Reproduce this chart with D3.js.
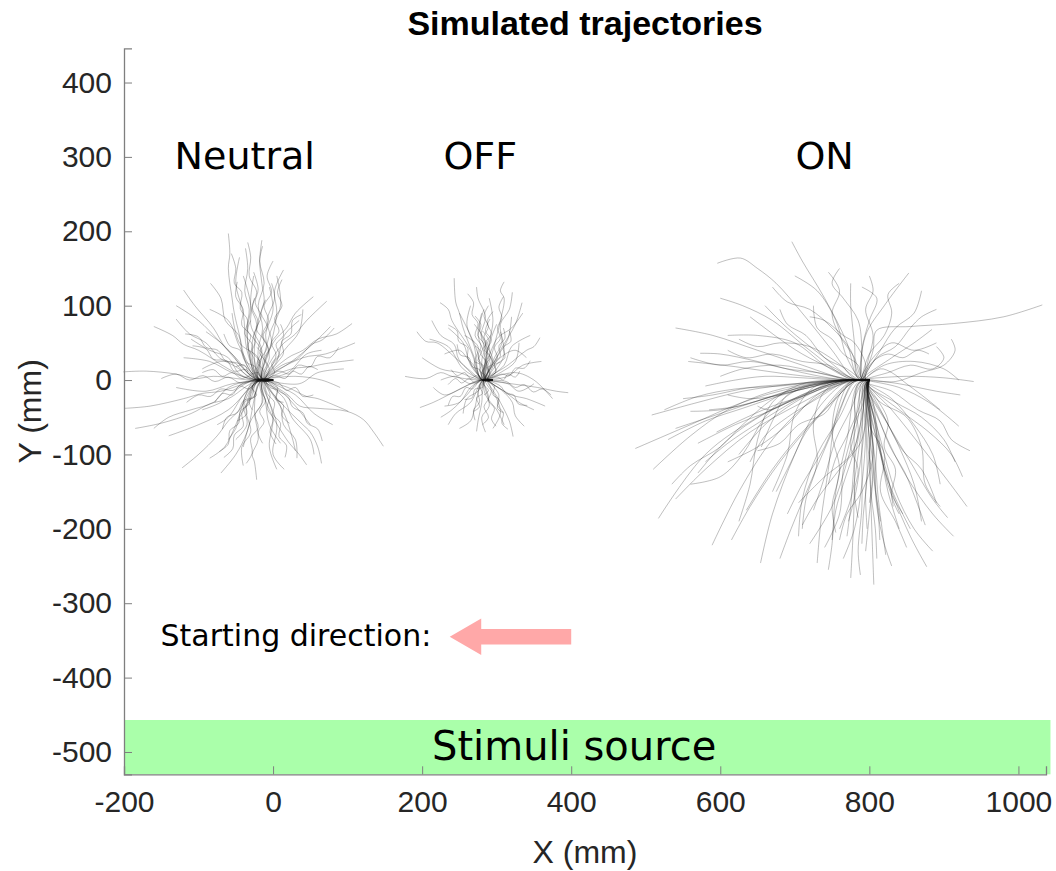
<!DOCTYPE html>
<html>
<head>
<meta charset="utf-8">
<script src="https://cdn.jsdelivr.net/npm/d3@7"></script>
<style>
  html, body { margin: 0; padding: 0; background: #fff; }
  svg { display: block; }
</style>
</head>
<body>
<svg id="chart" width="1056" height="871"></svg>
<script>
// Axis ranges and ticks (mm)
const xDomain = [-200, 1037];
const yDomain = [-530, 446];
const xTicks = [-200, 0, 200, 400, 600, 800, 1000];
const yTicks = [-500, -400, -300, -200, -100, 0, 100, 200, 300, 400];

// Start point of each group of simulated fish (mm)
const groupNames = ["Neutral", "OFF", "ON"];
const groupOrigins = [[0, 0], [295, 0], [800, 0]];
const groupLabelPos = [[-38, 284], [278, 284], [740, 284]];

// Stimulus band along the bottom (mm)
const stimulusBand = { x0: -200, x1: 1043, y0: -530, y1: -457 };
// Starting-direction arrow (mm): from tail to tip
const arrowTail = [400, -345];
const arrowTip = [237, -345];

// Trajectories, points relative to the group start (mm)
const neutralPaths = [
  [[0,0],[-20,2],[-35,20],[-45,60],[-52,90],[-55,110],[-60,150],[-58,170],[-60,197]],
  [[0,0],[-18,1],[-25,30],[-20,80],[-12,105],[-15,130],[-18,160],[-15,188]],
  [[0,0],[-22,-1],[-30,25],[-35,70],[-32,95],[-38,120],[-34,150],[-37,177]],
  [[0,0],[-15,3],[-5,40],[5,90],[2,120],[14,148]],
  [[0,0],[-25,2],[-50,30],[-65,45],[-80,70],[-105,100],[-120,121]],
  [[0,0],[-25,-1],[-60,15],[-100,40],[-120,48],[-135,60],[-160,72]],
  [[0,0],[-30,0],[-80,5],[-105,2],[-130,8],[-170,12],[-201,11]],
  [[0,0],[-28,-2],[-70,-15],[-95,-18],[-120,-25],[-165,-35],[-199,-38]],
  [[0,0],[-26,-3],[-60,-25],[-85,-32],[-110,-45],[-150,-58],[-185,-65]],
  [[0,0],[-22,-3],[-45,-40],[-60,-55],[-75,-75],[-100,-100],[-122,-118]],
  [[0,0],[-18,-2],[-25,-40],[-20,-80],[-28,-100],[-25,-110],[-22,-134]],
  [[0,0],[-15,-2],[-5,-40],[15,-75],[22,-85],[35,-100],[45,-114]],
  [[0,0],[-12,-1],[10,-30],[40,-60],[50,-70],[60,-90],[65,-112]],
  [[0,0],[-10,1],[20,-20],[36,-35],[60,-38],[99,-42],[121,-53],[135,-70],[148,-89]],
  [[0,0],[-10,0],[20,-10],[45,-22],[60,-25],[101,-42]],
  [[0,0],[-8,1],[25,15],[50,18],[70,22],[108,27]],
  [[0,0],[-10,2],[20,30],[40,40],[60,55],[85,62],[106,76]],
  [[0,0],[-12,2],[10,45],[30,62],[45,80],[72,106]],
  [[0,0],[-15,2],[0,50],[18,70],[30,90],[54,112]],
  [[0,0],[-10,1],[25,25],[55,50],[77,72]],
  [[0,0],[-20,0],[-40,15],[-55,35],[-70,50],[-90,65]],
  [[0,0],[-24,1],[-45,-10],[-70,-30],[-95,-40]],
  [[0,0],[-20,-1],[-30,-25],[-45,-50],[-50,-65],[-60,-80]],
  [[0,0],[-15,0],[-10,-30],[-5,-60],[10,-85]],
  [[0,0],[-18,1],[-35,40],[-40,90],[-50,130],[-45,165]],
  [[0,0],[-20,2],[-15,40],[-30,75],[-25,110]],
  [[0,0],[-16,1],[-5,30],[-10,60],[0,95],[-5,125]],
  [[0,0],[-22,0],[-55,10],[-85,25],[-120,30]],
  [[0,0],[-20,-1],[-55,-5],[-90,-15],[-130,-10]],
  [[0,0],[-25,0],[-50,-60],[-65,-90],[-85,-105]],
  [[0,0],[-12,-1],[0,-50],[-5,-90],[5,-120]],
  [[0,0],[-10,0],[15,-45],[25,-75],[30,-95]],
  [[0,0],[-8,0],[30,-20],[55,-45],[80,-60]],
  [[0,0],[-10,1],[30,5],[65,0],[90,-10]],
  [[0,0],[-12,2],[15,40],[35,65],[40,95]],
  [[0,0],[-14,2],[-5,60],[10,100],[5,140]],
  [[0,0],[-18,1],[-45,45],[-60,80],[-85,95]],
  [[0,0],[-22,1],[-70,50],[-100,80],[-130,100]],
  [[0,0],[-20,-2],[-60,-40],[-100,-60],[-140,-75]],
  [[0,0],[-16,-1],[-35,-70],[-50,-100],[-70,-125]],
  [[0,0],[-14,0],[5,-60],[0,-100],[15,-120]],
  [[0,0],[-12,1],[40,30],[70,35],[110,50]],
  [[0,0],[-10,0],[35,-5],[60,10],[95,15]],
  [[0,0],[-20,1],[-35,60],[-30,100],[-40,140]],
  [[0,0],[-18,0],[-40,20],[-70,25],[-95,15]],
  [[0,0],[-22,-1],[-40,-20],[-60,-50],[-75,-60]],
  [[0,0],[-15,1],[-20,30],[-45,50],[-55,90]],
  [[0,0],[-13,0],[5,25],[15,60],[35,80]],
  [[0,0],[-17,-1],[-15,-30],[-30,-55],[-40,-90]],
  [[0,0],[-14,-1],[10,-15],[30,-35],[50,-60]],
  [[0,0],[-20,1],[-28,50],[-22,75],[-30,100],[-26,140]],
  [[0,0],[-19,0],[-45,8],[-60,30],[-85,40],[-110,55]],
  [[0,0],[-21,-1],[-40,-30],[-35,-60],[-50,-80]],
  [[0,0],[-11,0],[15,-25],[25,-50],[50,-80],[55,-100]],
  [[0,0],[-9,1],[20,10],[45,35],[65,40]],
  [[0,0],[-12,1],[-22,12],[-18,25],[-28,38],[-24,52],[-34,66],[-30,80]],
  [[0,0],[-15,0],[-28,-8],[-25,-22],[-38,-30],[-35,-45],[-48,-55]],
  [[0,0],[-10,1],[-5,15],[-12,28],[-6,42],[-14,58],[-8,72],[-16,90],[-10,108]],
  [[0,0],[-18,0],[-30,6],[-42,2],[-55,10],[-68,5],[-80,14],[-95,10]],
  [[0,0],[-20,-1],[-32,-12],[-45,-8],[-55,-20],[-68,-18],[-78,-30]],
  [[0,0],[-8,0],[2,10],[-2,22],[8,34],[4,48],[14,60],[10,75]],
  [[0,0],[-6,0],[6,-10],[4,-24],[14,-34],[12,-48],[22,-58]],
  [[0,0],[-12,0],[-16,-14],[-10,-28],[-18,-42],[-12,-56],[-20,-70],[-14,-85]],
  [[0,0],[-9,1],[4,6],[16,2],[26,12],[38,8],[48,18],[60,14]],
  [[0,0],[-7,0],[8,-4],[18,-14],[30,-10],[40,-22],[54,-20]],
  [[0,0],[-14,1],[-24,18],[-36,24],[-44,40],[-58,46],[-66,62]],
  [[0,0],[-16,-1],[-26,-22],[-40,-28],[-48,-44],[-62,-50],[-68,-66]],
  [[0,0],[-19,1],[-26,30],[-34,44],[-30,60],[-42,74],[-40,95],[-50,112],[-48,132]],
  [[0,0],[-13,1],[-8,22],[-18,36],[-12,52],[-22,68],[-16,86],[-24,104],[-20,122],[-26,145]],
  [[0,0],[-17,0],[-22,20],[-16,40],[-26,58],[-20,78],[-28,98],[-22,118],[-32,140],[-30,165],[-34,185]],
  [[0,0],[-11,1],[-2,18],[4,34],[-2,50],[8,66],[2,82],[12,100],[6,118],[12,135]],
  [[0,0],[-21,0],[-38,8],[-50,22],[-64,26],[-74,40],[-90,44],[-100,58],[-118,62]],
  [[0,0],[-23,-1],[-40,-4],[-54,-14],[-70,-12],[-84,-22],[-100,-20],[-116,-30]],
  [[0,0],[-18,-1],[-30,-16],[-32,-32],[-44,-42],[-46,-58],[-58,-68],[-60,-86],[-72,-96]],
  [[0,0],[-10,-1],[-8,-18],[2,-30],[0,-46],[10,-58],[8,-76],[18,-88],[16,-104]],
  [[0,0],[-8,0],[6,-14],[20,-22],[26,-36],[40,-44],[46,-58],[60,-66],[66,-82]],
  [[0,0],[-9,1],[8,12],[22,8],[34,20],[50,18],[60,32],[76,30],[88,44]],
  [[0,0],[-10,1],[6,24],[14,36],[12,52],[24,62],[26,80],[38,88]],
  [[0,0],[-24,0],[-44,-4],[-60,4],[-78,-2],[-94,6],[-112,0],[-130,8],[-150,2]],
  [[0,0],[-22,1],[-36,14],[-52,12],[-62,26],[-80,28],[-90,42],[-108,46]],
  [[0,0],[-20,-1],[-34,-30],[-42,-44],[-40,-62],[-52,-74],[-54,-92],[-66,-104]],
  [[0,0],[-15,-1],[-14,-30],[-24,-46],[-20,-64],[-30,-78],[-28,-98],[-36,-112]],
  [[0,0],[-12,0],[-4,-20],[-8,-38],[0,-52],[-4,-70],[4,-86]],
  [[0,0],[-16,1],[-12,12],[-20,22],[-14,34],[-22,44]],
  [[0,0],[-20,0],[-28,-10],[-22,-20],[-32,-28],[-28,-40]],
  [[0,0],[-14,0],[-20,10],[-32,8],[-38,20],[-50,18]],
  [[0,0],[-9,0],[-4,-10],[6,-14],[4,-26],[14,-30]],
  [[0,0],[-18,1],[-30,34],[-28,48],[-38,62],[-34,80],[-44,96],[-42,118],[-52,130],[-50,150],[-56,170]],
  [[0,0],[-15,1],[-16,28],[-8,44],[-14,62],[-6,80],[-12,100],[-2,118],[-8,140],[0,160]],
  [[0,0],[-16,1],[-20,40],[-14,70],[-20,100],[-12,130],[-18,160],[-14,180]],
  [[0,0],[-20,1],[-40,30],[-46,60],[-64,80],[-70,110],[-84,130]],
  [[0,0],[-14,1],[-10,30],[-2,50],[-8,80],[2,110],[-2,130]],
  [[0,0],[-24,0],[-50,18],[-72,30],[-90,50],[-112,62],[-130,82]],
  [[0,0],[-22,-1],[-36,-40],[-30,-70],[-42,-90],[-40,-115]],
  [[0,0],[-10,0],[10,-35],[14,-60],[30,-80],[32,-105]],
  [[0,0],[-26,0],[-60,-10],[-80,-30],[-110,-40],[-140,-50],[-160,-65]],
  [[0,0],[-12,1],[12,20],[32,28],[52,48],[66,54],[82,70]]
];

const offPaths = [
  [[0,0],[-15,0],[-25,30],[-40,70],[-45,90],[-50,105],[-52,137]],
  [[0,0],[-10,1],[0,40],[10,80],[15,110],[10,120],[15,132]],
  [[0,0],[-20,0],[-55,5],[-70,10],[-90,2],[-118,5]],
  [[0,0],[-18,1],[-45,25],[-75,50],[-90,52],[-102,65]],
  [[0,0],[-20,-1],[-50,-15],[-80,-30],[-98,-37]],
  [[0,0],[-10,0],[25,-5],[60,-10],[85,-15],[101,-17]],
  [[0,0],[-8,1],[20,20],[45,40],[55,45],[63,57]],
  [[0,0],[-12,-1],[-15,-30],[-20,-55],[-22,-69]],
  [[0,0],[-6,-1],[10,-30],[22,-55],[27,-76]],
  [[0,0],[-15,1],[-30,40],[-55,80],[-60,95],[-71,104]],
  [[0,0],[-8,1],[10,40],[30,75],[39,104]],
  [[0,0],[-15,0],[-10,30],[-20,60],[-15,90]],
  [[0,0],[-12,1],[-30,20],[-40,50],[-60,70]],
  [[0,0],[-18,0],[-40,-10],[-65,-20],[-80,-10]],
  [[0,0],[-14,-1],[-30,-30],[-50,-45],[-60,-60]],
  [[0,0],[-10,-1],[5,-25],[10,-45],[0,-65]],
  [[0,0],[-8,0],[15,-15],[35,-30],[55,-40]],
  [[0,0],[-8,0],[20,5],[40,20],[65,25]],
  [[0,0],[-10,1],[5,30],[20,55],[25,85]],
  [[0,0],[-12,1],[-5,50],[0,80],[-5,110]],
  [[0,0],[-16,1],[-25,45],[-35,75],[-30,100]],
  [[0,0],[-20,1],[-45,10],[-70,15],[-95,30]],
  [[0,0],[-18,-1],[-35,-20],[-55,-40],[-70,-50]],
  [[0,0],[-12,0],[-5,-35],[-15,-50],[-10,-70]],
  [[0,0],[-6,0],[25,-20],[45,-25],[70,-35]],
  [[0,0],[-7,1],[15,20],[25,45],[50,60]],
  [[0,0],[-10,1],[-15,25],[-10,50],[-25,75]],
  [[0,0],[-14,1],[-35,30],[-45,40],[-65,35]],
  [[0,0],[-16,0],[-30,-5],[-50,5],[-70,0]],
  [[0,0],[-9,0],[5,15],[15,35],[10,65]],
  [[0,0],[-11,0],[-20,-15],[-35,-25],[-40,-45]],
  [[0,0],[-7,0],[20,-5],[35,-15],[55,-5]],
  [[0,0],[-13,1],[-20,35],[-30,60],[-45,90]],
  [[0,0],[-10,1],[5,55],[25,70],[40,90]],
  [[0,0],[-12,-1],[-10,-20],[5,-40],[15,-60]],
  [[0,0],[-9,0],[30,10],[55,0],[80,-25]],
  [[0,0],[-15,1],[-40,15],[-60,45],[-85,55]],
  [[0,0],[-13,0],[-25,-40],[-30,-55],[-45,-65]],
  [[0,0],[-10,1],[0,25],[-5,45],[5,75]],
  [[0,0],[-11,0],[10,30],[30,40],[45,30]],
  [[0,0],[-12,1],[-8,40],[-18,70],[-12,95]],
  [[0,0],[-14,0],[-25,20],[-20,45],[-38,60]],
  [[0,0],[-9,0],[10,10],[30,25],[35,50]],
  [[0,0],[-15,-1],[-30,-10],[-45,-30],[-65,-35]],
  [[0,0],[-8,0],[-4,10],[-10,20],[-4,30],[-12,42],[-6,54],[-14,66]],
  [[0,0],[-10,0],[-16,8],[-12,18],[-20,26],[-16,38],[-24,46]],
  [[0,0],[-12,0],[-18,-8],[-14,-18],[-22,-24],[-18,-36],[-26,-42]],
  [[0,0],[-6,0],[2,-8],[0,-20],[8,-26],[6,-38],[14,-44]],
  [[0,0],[-5,0],[6,4],[14,0],[20,8],[30,4],[36,12]],
  [[0,0],[-7,0],[4,12],[2,24],[10,32],[8,46],[16,56],[14,70]],
  [[0,0],[-14,0],[-22,6],[-30,2],[-38,10],[-48,6],[-56,14]],
  [[0,0],[-15,0],[-24,-4],[-32,2],[-42,-4],[-50,2],[-60,-6]],
  [[0,0],[-9,0],[-6,16],[-12,30],[-6,44],[-12,58],[-6,72],[-12,86],[-6,100]],
  [[0,0],[-11,0],[-14,18],[-20,32],[-16,46],[-24,60],[-20,76],[-28,88],[-26,104],[-34,116]],
  [[0,0],[-7,0],[0,18],[6,30],[2,44],[10,56],[6,70],[12,84],[8,98],[14,112]],
  [[0,0],[-13,0],[-20,-16],[-18,-30],[-26,-40],[-24,-54]],
  [[0,0],[-8,0],[-2,-14],[-6,-28],[2,-38],[-2,-52],[4,-62]],
  [[0,0],[-6,0],[10,-8],[18,-18],[28,-20],[34,-32],[46,-34]],
  [[0,0],[-6,0],[12,8],[22,6],[30,16],[42,16],[50,26]],
  [[0,0],[-12,0],[-18,14],[-28,18],[-32,30],[-44,34],[-48,48]],
  [[0,0],[-16,0],[-28,-12],[-36,-10],[-44,-22],[-54,-22],[-60,-34]],
  [[0,0],[-10,0],[-10,24],[-4,36],[-10,50],[-2,62],[-8,78],[0,92]],
  [[0,0],[-12,0],[-6,-24],[-12,-36],[-6,-50],[-14,-60]],
  [[0,0],[-9,0],[-12,12],[-8,24],[-16,34],[-12,48],[-20,60],[-16,74],[-24,86]],
  [[0,0],[-10,0],[-2,28],[-8,40],[-2,54],[-10,66],[-4,82]],
  [[0,0],[-7,0],[6,22],[16,30],[14,44],[24,52],[22,66]],
  [[0,0],[-14,0],[-26,20],[-34,30],[-34,44],[-46,52],[-48,66],[-60,74]],
  [[0,0],[-8,0],[18,-2],[30,-10],[42,-6],[54,-16],[66,-12],[78,-20]],
  [[0,0],[-11,0],[-14,-10],[-24,-12],[-28,-24],[-38,-26]],
  [[0,0],[-5,0],[8,-20],[6,-34],[14,-44],[12,-58],[20,-66]],
  [[0,0],[-10,0],[-4,8],[-8,16],[0,22],[-4,32]],
  [[0,0],[-12,0],[-10,6],[-18,12],[-16,20],[-24,24]],
  [[0,0],[-8,0],[-12,-6],[-6,-14],[-12,-20]],
  [[0,0],[-9,0],[-2,4],[4,12],[2,20],[10,24]],
  [[0,0],[-10,0],[-8,35],[-16,60],[-10,85],[-20,110],[-22,125]],
  [[0,0],[-9,0],[2,30],[12,50],[10,75],[22,95],[26,118]],
  [[0,0],[-14,0],[-30,12],[-46,28],[-52,48],[-70,60],[-82,80]],
  [[0,0],[-8,0],[12,-14],[26,-30],[30,-48],[42,-62]]
];

const onPaths = [
  [[0,0],[-40,0],[-100,-10],[-170,-30],[-240,-60],[-314,-92]],
  [[0,0],[-40,0],[-100,-5],[-170,-15],[-230,-30],[-292,-47]],
  [[0,0],[-40,1],[-110,8],[-180,18],[-243,25]],
  [[0,0],[-40,1],[-90,10],[-150,25],[-200,35],[-227,36]],
  [[0,0],[-35,-1],[-90,-20],[-150,-50],[-220,-100],[-283,-186]],
  [[0,0],[-30,-2],[-80,-30],[-130,-80],[-175,-150],[-211,-222]],
  [[0,0],[-30,-2],[-70,-40],[-100,-100],[-130,-180],[-146,-246]],
  [[0,0],[-25,-2],[-45,-50],[-55,-120],[-65,-190],[-70,-246]],
  [[0,0],[-15,-5],[-20,-60],[-20,-140],[-22,-210],[-25,-266]],
  [[0,0],[-5,-10],[0,-80],[2,-160],[4,-220],[6,-275]],
  [[0,0],[-3,-10],[10,-80],[30,-150],[55,-210],[77,-251]],
  [[0,0],[-3,-10],[20,-70],[50,-130],[85,-180],[113,-210]],
  [[0,0],[-2,-5],[30,-40],[70,-90],[105,-135],[131,-170]],
  [[0,0],[-5,0],[40,-10],[80,-30],[120,-62]],
  [[0,0],[-5,1],[40,-5],[90,-15],[122,-20]],
  [[0,0],[-5,1],[50,5],[100,3],[140,-2]],
  [[0,0],[-8,2],[30,30],[60,50],[84,68]],
  [[0,0],[-5,2],[5,40],[10,67],[55,72],[113,76],[180,85],[232,101]],
  [[0,0],[-10,2],[-5,60],[20,100],[53,144]],
  [[0,0],[-15,2],[-30,50],[-60,110],[-90,160],[-104,186]],
  [[0,0],[-20,2],[-50,40],[-90,90],[-125,130],[-150,150],[-173,164],[-204,157]],
  [[0,0],[-15,2],[-20,50],[-25,100],[-25,130]],
  [[0,0],[-20,1],[-60,30],[-110,70],[-140,100]],
  [[0,0],[-30,1],[-90,20],[-150,40],[-210,60],[-260,70]],
  [[0,0],[-25,1],[-80,40],[-130,80],[-170,100],[-200,110]],
  [[0,0],[-30,0],[-80,-10],[-140,-25],[-200,-45],[-260,-65]],
  [[0,0],[-30,-1],[-90,-30],[-160,-70],[-220,-120],[-260,-160]],
  [[0,0],[-25,-2],[-70,-50],[-120,-110],[-160,-170],[-185,-215]],
  [[0,0],[-20,-3],[-50,-70],[-80,-140],[-105,-200],[-120,-240]],
  [[0,0],[-15,-5],[-30,-80],[-45,-150],[-50,-220],[-55,-255]],
  [[0,0],[-5,-10],[-10,-90],[-10,-170],[-15,-230],[-12,-262]],
  [[0,0],[-3,-10],[5,-90],[10,-170],[20,-220],[30,-250]],
  [[0,0],[-3,-10],[15,-80],[35,-150],[60,-200],[85,-230]],
  [[0,0],[-3,-10],[25,-60],[55,-110],[85,-160],[105,-185]],
  [[0,0],[-2,-5],[40,-40],[80,-70],[110,-100],[125,-130]],
  [[0,0],[-5,-5],[-2,-60],[5,-120],[0,-180],[-5,-230]],
  [[0,0],[-8,-5],[-5,-70],[-10,-140],[-20,-200],[-35,-240]],
  [[0,0],[-10,-3],[-15,-50],[-30,-110],[-50,-170],[-80,-220]],
  [[0,0],[-20,-2],[-50,-30],[-90,-70],[-130,-120],[-165,-175]],
  [[0,0],[-30,0],[-80,-15],[-130,-40],[-180,-60],[-230,-85]],
  [[0,0],[-30,1],[-70,10],[-120,20],[-170,15],[-200,5]],
  [[0,0],[-35,0],[-100,-5],[-160,-10],[-210,-20],[-250,-25]],
  [[0,0],[-20,-1],[-40,-40],[-60,-90],[-90,-140],[-110,-180]],
  [[0,0],[-6,-5],[2,-50],[15,-100],[25,-150],[40,-200]],
  [[0,0],[-2,-5],[15,-40],[40,-90],[60,-140],[70,-190]],
  [[0,0],[-5,-5],[-8,-40],[-15,-100],[-25,-160],[-40,-200]],
  [[0,0],[-4,-5],[5,-30],[10,-80],[8,-140],[15,-190]],
  [[0,0],[-10,1],[5,30],[30,50],[60,40],[90,50]],
  [[0,0],[-5,1],[20,20],[60,25],[100,15],[120,0]],
  [[0,0],[-5,-2],[30,-25],[60,-60],[85,-100],[95,-140]],
  [[0,0],[-12,2],[-30,30],[-45,80],[-70,120],[-100,140]],
  [[0,0],[-25,2],[-60,20],[-100,50],[-150,60],[-190,60]],
  [[0,0],[-8,3],[-10,40],[0,80],[10,110],[-10,125]],
  [[0,0],[-20,-1],[-70,-20],[-110,-60],[-150,-90],[-190,-110]],
  [[0,0],[-15,-3],[-40,-50],[-70,-100],[-90,-160],[-95,-210]],
  [[0,0],[-8,-4],[-20,-60],[-35,-120],[-40,-180],[-60,-225]],
  [[0,0],[-4,-8],[10,-60],[20,-120],[40,-170],[55,-200]],
  [[0,0],[-3,-6],[35,-30],[70,-50],[100,-80],[115,-110]],
  [[0,0],[-4,-6],[2,-40],[0,-100],[-5,-150],[-3,-200]],
  [[0,0],[-20,0],[-60,-10],[-100,-30],[-140,-60],[-175,-100]],
  [[0,0],[-25,0],[-75,-5],[-125,-20],[-175,-35],[-215,-40]],
  [[0,0],[-10,-4],[-25,-40],[-45,-80],[-60,-130],[-75,-175]],
  [[0,0],[-3,-8],[0,-50],[8,-110],[12,-160],[22,-235]],
  [[0,0],[-4,-6],[20,-50],[45,-95],[70,-120],[90,-165]],
  [[0,0],[-18,1],[-50,15],[-90,35],[-120,55],[-160,85]],
  [[0,0],[-6,2],[15,40],[35,70],[60,90],[70,120]],
  [[0,0],[-28,-1],[-85,-20],[-140,-45],[-190,-80],[-230,-125]],
  [[0,0],[-7,-5],[-12,-60],[-20,-110],[-25,-170],[-30,-210]],
  [[0,0],[-50,-3],[-110,-18],[-170,-38],[-220,-55],[-270,-80]],
  [[0,0],[-45,-2],[-100,-12],[-150,-28],[-200,-40],[-240,-42]],
  [[0,0],[-40,-2],[-85,-20],[-130,-35],[-175,-55],[-205,-70]],
  [[0,0],[-35,-1],[-80,-8],[-120,-20],[-160,-25],[-190,-20]],
  [[0,0],[-45,-1],[-95,-25],[-145,-55],[-190,-85],[-220,-110]],
  [[0,0],[-30,-2],[-70,-25],[-110,-50],[-140,-75],[-160,-110]],
  [[0,0],[-25,-3],[-55,-35],[-85,-70],[-105,-110],[-125,-150]],
  [[0,0],[-35,-1],[-70,-12],[-105,-28],[-135,-40],[-150,-35]],
  [[0,0],[-50,-1],[-120,-8],[-180,-12],[-230,-22],[-275,-40]],
  [[0,0],[-40,0],[-90,3],[-140,5],[-180,0],[-220,-8]],
  [[0,0],[-2,-15],[-4,-70],[-3,-130],[-8,-180],[-10,-220]],
  [[0,0],[-1,-15],[3,-70],[6,-130],[12,-180],[14,-215]],
  [[0,0],[-3,-12],[-6,-60],[-12,-110],[-18,-150],[-28,-190]],
  [[0,0],[-2,-12],[2,-55],[0,-110],[2,-150],[8,-200],[10,-240]],
  [[0,0],[-2,-10],[8,-60],[18,-110],[28,-150],[45,-180]],
  [[0,0],[-4,-8],[-10,-50],[-22,-100],[-35,-140],[-45,-175],[-50,-215]],
  [[0,0],[-3,-10],[0,-40],[-2,-90],[4,-130],[0,-165]],
  [[0,0],[-2,-8],[12,-50],[28,-90],[48,-125],[62,-160],[75,-195]],
  [[0,0],[-5,-6],[-15,-40],[-30,-75],[-45,-105],[-55,-140]],
  [[0,0],[-3,-8],[5,-45],[12,-85],[25,-130],[32,-170]],
  [[0,0],[-4,-3],[30,-15],[65,-40],[95,-55],[110,-80],[135,-95]],
  [[0,0],[-3,0],[35,-2],[70,10],[100,20],[115,40],[110,55]],
  [[0,0],[-4,1],[25,10],[55,20],[85,15],[100,30],[90,45]],
  [[0,0],[-10,2],[-20,30],[-40,60],[-50,90],[-40,120],[-55,145]],
  [[0,0],[-15,1],[-45,25],[-80,45],[-120,50],[-150,45],[-175,55]],
  [[0,0],[-8,2],[0,35],[20,60],[30,90],[25,115],[40,130]],
  [[0,0],[-6,2],[10,30],[35,45],[55,70],[70,85],[90,95]],
  [[0,0],[-12,2],[-25,40],[-50,70],[-80,95],[-110,105],[-130,125]],
  [[0,0],[-20,1],[-55,20],[-90,25],[-130,35],[-165,30],[-190,40]],
  [[0,0],[-10,2],[-10,40],[-15,80],[-35,110],[-50,130],[-40,150]],
  [[0,0],[-25,1],[-70,10],[-110,15],[-160,25],[-200,20],[-240,30]],
  [[0,0],[-8,2],[5,25],[25,35],[45,30],[65,40],[80,35]],
  [[0,0],[-10,2],[-15,20],[-35,35],[-50,55],[-70,70],[-75,100]],
  [[0,0],[-40,0],[-90,-5],[-130,-30],[-150,-80],[-160,-140],[-175,-190]],
  [[0,0],[-35,0],[-75,-10],[-100,-45],[-110,-100],[-130,-150]],
  [[0,0],[-20,-2],[-40,-20],[-50,-70],[-40,-120],[-50,-170],[-45,-205]],
  [[0,0],[-30,0],[-60,-15],[-75,-60],[-70,-110],[-85,-160],[-90,-200]],
  [[0,0],[-45,-1],[-100,-15],[-140,-50],[-170,-100],[-200,-130],[-240,-140]],
  [[0,0],[-3,-20],[-10,-80],[-40,-120],[-70,-160],[-90,-195]],
  [[0,0],[-3,-20],[5,-100],[-10,-150],[-30,-180],[-40,-215]],
  [[0,0],[-2,-15],[0,-60],[20,-100],[15,-150],[35,-190],[50,-225]],
  [[0,0],[-2,-10],[15,-30],[50,-50],[70,-90],[75,-140],[95,-170]],
  [[0,0],[-50,-2],[-120,-20],[-170,-60],[-200,-90],[-240,-115],[-265,-140]],
  [[0,0],[-60,-2],[-130,-15],[-190,-40],[-240,-75],[-290,-120]],
  [[0,0],[-40,-1],[-80,-10],[-110,-20],[-130,-55],[-145,-90]],
  [[0,0],[-20,-2],[-45,-25],[-60,-45],[-95,-60],[-120,-85],[-150,-95]],
  [[0,0],[-10,1],[-30,15],[-60,30],[-85,60],[-110,75],[-120,95]],
  [[0,0],[-12,-3],[-20,-30],[-15,-70],[-25,-100],[-60,-130],[-95,-165]],
  [[0,0],[-6,-6],[-8,-30],[-20,-60],[-25,-90],[-15,-120],[-20,-150],[-15,-185]],
  [[0,0],[-4,-4],[10,-25],[25,-55],[20,-90],[35,-120],[30,-155],[40,-180]],
  [[0,0],[-5,1],[15,15],[30,10],[50,-5],[70,-20],[95,-40]],
  [[0,0],[-10,2],[-5,20],[-20,50],[-35,60],[-60,80],[-80,85]],
  [[0,0],[-6,2],[-2,25],[5,60],[-5,95],[5,120],[0,140]]
];

const allGroups = [neutralPaths, offPaths, onPaths];

const svg = d3.select("#chart");

const x = d3.scaleLinear().domain(xDomain).range([124, 1046]);
const y = d3.scaleLinear().domain(yDomain).range([774.3, 48.3]);

const axisColor = "#7f7f7f";
const textColor = "#262626";
const sansFont = "'Liberation Sans', Arial, Helvetica, sans-serif";
const labelFont = "'DejaVu Sans', Verdana, sans-serif";

// Stimulus band
svg.append("rect")
  .attr("x", x(stimulusBand.x0))
  .attr("y", y(stimulusBand.y1))
  .attr("width", x(stimulusBand.x1) - x(stimulusBand.x0))
  .attr("height", y(stimulusBand.y0) - y(stimulusBand.y1))
  .attr("fill", "#aaffaa");

// Trajectories
const line = d3.line()
  .x(d => x(d[0]))
  .y(d => y(d[1]))
  .curve(d3.curveCatmullRom.alpha(0.5));

const trajG = svg.append("g").attr("class", "trajectories");
allGroups.forEach((paths, gi) => {
  const [ox, oy] = groupOrigins[gi];
  trajG.append("g")
    .selectAll("path")
    .data(paths)
    .join("path")
    .attr("d", p => line(p.map(([px, py]) => [px + ox, py + oy])))
    .attr("fill", "none")
    .attr("stroke", "#111")
    .attr("stroke-opacity", 0.3)
    .attr("stroke-width", 0.9)
    .attr("stroke-linejoin", "round");
});

// Axes (ticks drawn inward)
const xAxis = d3.axisBottom(x).tickValues(xTicks).tickSize(-8).tickPadding(16).tickFormat(d => String(d));
const yAxis = d3.axisLeft(y).tickValues(yTicks).tickSize(-8).tickPadding(12).tickFormat(d => String(d));

const gx = svg.append("g").attr("transform", `translate(0,${y(yDomain[0])})`).call(xAxis);
const gy = svg.append("g").attr("transform", `translate(${x(xDomain[0])},0)`).call(yAxis);

[gx, gy].forEach(g => {
  g.select(".domain").attr("stroke", axisColor).attr("stroke-width", 1.3);
  g.selectAll(".tick line").attr("stroke", axisColor).attr("stroke-width", 1);
  g.selectAll(".tick text")
    .attr("fill", textColor)
    .style("font-family", sansFont)
    .style("font-size", "30px");
});
gx.selectAll(".tick text").attr("dy", "0.71em");

// Axis titles
svg.append("text")
  .attr("x", (x(xDomain[0]) + x(xDomain[1])) / 2)
  .attr("y", 863)
  .attr("text-anchor", "middle")
  .attr("fill", textColor)
  .style("font-family", sansFont)
  .style("font-size", "32px")
  .text("X (mm)");

svg.append("text")
  .attr("transform", `translate(41,${(y(yDomain[0]) + y(yDomain[1])) / 2}) rotate(-90)`)
  .attr("text-anchor", "middle")
  .attr("fill", textColor)
  .style("font-family", sansFont)
  .style("font-size", "32px")
  .text("Y (mm)");

// Title
svg.append("text")
  .attr("x", (x(xDomain[0]) + x(xDomain[1])) / 2)
  .attr("y", 35)
  .attr("text-anchor", "middle")
  .attr("fill", "#000")
  .style("font-family", sansFont)
  .style("font-weight", "bold")
  .style("font-size", "34px")
  .text("Simulated trajectories");

// Group labels
svg.append("g").selectAll("text")
  .data(groupNames)
  .join("text")
  .attr("x", (d, i) => x(groupLabelPos[i][0]))
  .attr("y", (d, i) => y(groupLabelPos[i][1]))
  .attr("text-anchor", "middle")
  .attr("fill", "#000")
  .style("font-family", labelFont)
  .style("font-size", "38px")
  .text(d => d);

// Starting direction note and arrow
svg.append("text")
  .attr("x", x(-151))
  .attr("y", y(-358))
  .attr("fill", "#000")
  .style("font-family", labelFont)
  .style("font-size", "30px")
  .text("Starting direction:");

{
  const tx = x(arrowTip[0]), ty = y(arrowTip[1]);
  const bx = x(arrowTail[0]);
  const headLen = 31.5, headHalf = 18.3, shaftHalf = 7.8;
  const pts = [
    [tx, ty],
    [tx + headLen, ty - headHalf],
    [tx + headLen, ty - shaftHalf],
    [bx, ty - shaftHalf],
    [bx, ty + shaftHalf],
    [tx + headLen, ty + shaftHalf],
    [tx + headLen, ty + headHalf]
  ];
  svg.append("path")
    .attr("d", d3.line()(pts) + "Z")
    .attr("fill", "#ffa8a8");
}

// Stimulus band caption
svg.append("text")
  .attr("x", x(404))
  .attr("y", y(-511))
  .attr("text-anchor", "middle")
  .attr("fill", "#000")
  .style("font-family", labelFont)
  .style("font-size", "40px")
  .text("Stimuli source");
</script>
</body>
</html>
